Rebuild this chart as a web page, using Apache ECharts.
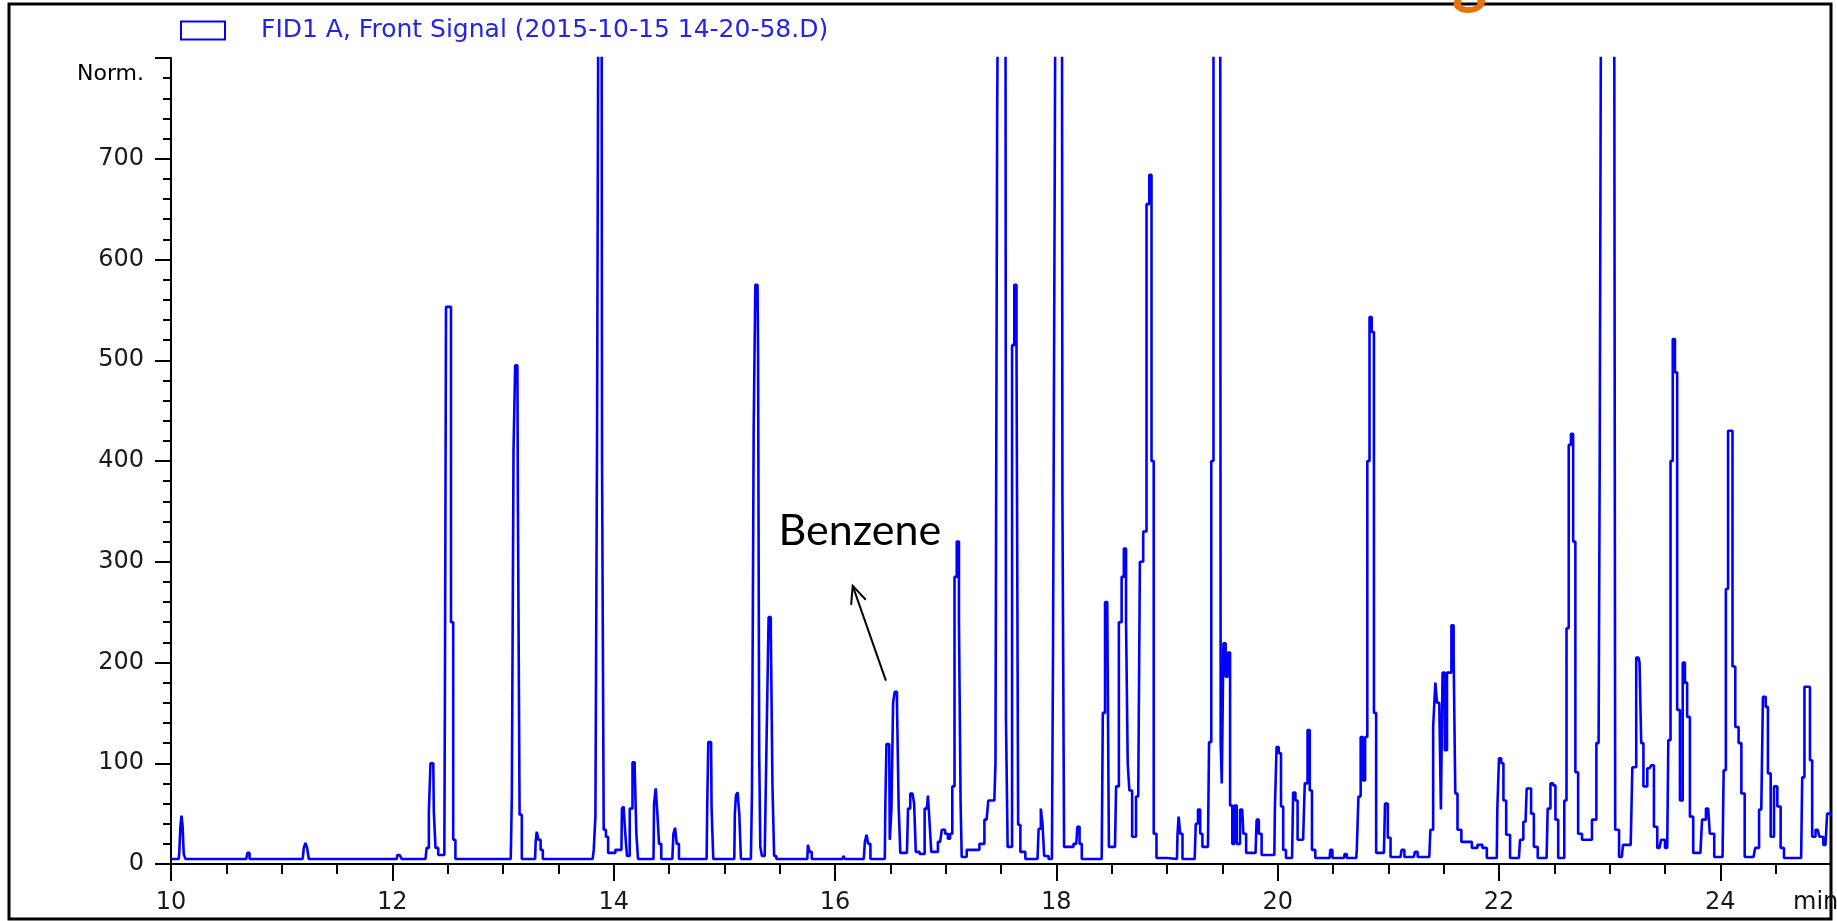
<!DOCTYPE html>
<html>
<head>
<meta charset="utf-8">
<title>FID1 A, Front Signal</title>
<script src="https://cdn.jsdelivr.net/npm/echarts@6/dist/echarts.min.js"></script>
<style>
html, body { margin: 0; padding: 0; background: #fff; }
#main { width: 1837px; height: 921px; }
</style>
</head>
<body>
<div id="main"></div>
<script>
// retention time (min) and detector response
var retentionTime = [
  10.00, 10.07, 10.08, 10.09, 10.10, 10.11, 10.12, 10.14, 10.68, 10.70, 10.72,
  11.19, 11.21, 11.22, 11.24, 11.25, 12.04, 12.05, 12.08, 12.09,
  12.30, 12.32, 12.34, 12.35, 12.37, 12.38, 12.40, 12.43, 12.47, 12.48, 12.49, 12.52, 12.54, 12.56, 12.58,
  13.07, 13.09, 13.10, 13.12, 13.13, 13.14, 13.16, 13.18, 13.29, 13.30, 13.31, 13.33, 13.35, 13.37,
  13.81, 13.83, 13.84, 13.86, 13.87, 13.89, 13.90, 13.92, 13.94, 13.96,
  14.07, 14.08, 14.10, 14.11, 14.13, 14.16, 14.18, 14.20, 14.21, 14.23,
  14.36, 14.37, 14.39, 14.40, 14.42, 14.44, 14.53, 14.55, 14.56, 14.58, 14.60,
  14.84, 14.85, 14.86, 14.88, 14.89, 14.91, 15.09, 15.10, 15.11, 15.13, 15.14, 15.16,
  15.24, 15.26, 15.27, 15.29, 15.30, 15.31, 15.32, 15.33, 15.35, 15.38, 15.39, 15.41, 15.43, 15.44, 15.46, 15.48,
  15.75, 15.76, 15.78, 15.80, 16.07, 16.08, 16.10, 16.26, 16.28, 16.29, 16.31, 16.33,
  16.45, 16.46, 16.47, 16.49, 16.50, 16.52, 16.53, 16.55, 16.57, 16.58, 16.60,
  16.65, 16.67, 16.69, 16.71, 16.72, 16.74, 16.79, 16.83, 16.85, 16.86, 16.88, 16.91,
  16.95, 16.98, 17.01, 17.03, 17.05, 17.07, 17.09, 17.11, 17.13, 17.14, 17.15, 17.18,
  17.20, 17.28, 17.33, 17.37, 17.40, 17.44, 17.46, 17.47, 17.49, 17.54, 17.55, 17.57, 17.59,
  17.61, 17.63, 17.65, 17.66, 17.69, 17.75, 17.83, 17.85, 17.87, 17.88, 17.90,
  17.96, 17.98, 17.99, 18.00, 18.05, 18.06, 18.08, 18.13, 18.18, 18.20, 18.22, 18.24,
  18.41, 18.43, 18.45, 18.47, 18.48, 18.53, 18.55, 18.58, 18.60, 18.62, 18.64, 18.65, 18.67,
  18.70, 18.74, 18.77, 18.80, 18.83, 18.85, 18.87, 18.89, 18.92,
  19.09, 19.10, 19.11, 19.13, 19.15, 19.25, 19.27, 19.29, 19.31, 19.33, 19.37, 19.39, 19.41,
  19.43, 19.48, 19.49, 19.50, 19.52, 19.54, 19.56, 19.58, 19.60, 19.62, 19.64, 19.68, 19.70,
  19.73, 19.80, 19.82, 19.84, 19.87, 19.97, 19.98, 20.00, 20.02, 20.04, 20.06, 20.09,
  20.13, 20.15, 20.17, 20.19, 20.23, 20.26, 20.28, 20.30, 20.32, 20.36,
  20.47, 20.48, 20.51, 20.60, 20.61, 20.64, 20.71, 20.72, 20.74, 20.76, 20.78, 20.80,
  20.82, 20.84, 20.86, 20.88, 20.90, 20.96, 20.98, 21.01, 21.03, 21.11, 21.13, 21.16,
  21.23, 21.25, 21.28, 21.37, 21.39, 21.42, 21.43, 21.45, 21.47, 21.48, 21.50, 21.52,
  21.54, 21.56, 21.58, 21.60, 21.61, 21.64, 21.68, 21.73, 21.78, 21.83, 21.87, 21.91,
  21.98, 21.99, 22.01, 22.03, 22.05, 22.08, 22.12, 22.18, 22.20, 22.24, 22.26, 22.28,
  22.30, 22.33, 22.37, 22.43, 22.45, 22.48, 22.50, 22.52, 22.55, 22.58, 22.60, 22.62,
  22.64, 22.66, 22.68, 22.70, 22.73, 22.77, 22.82, 22.86, 22.90, 22.92, 22.93, 23.04,
  23.06, 23.11, 23.13, 23.19, 23.22, 23.26, 23.28, 23.29, 23.32, 23.36, 23.39, 23.41,
  23.45, 23.48, 23.52, 23.54, 23.56, 23.58, 23.60, 23.62, 23.65, 23.67, 23.69, 23.71,
  23.74, 23.77, 23.82, 23.85, 23.89, 23.92, 23.97, 24.02, 24.04, 24.06, 24.08, 24.10,
  24.12, 24.15, 24.18, 24.20, 24.24, 24.30, 24.33, 24.37, 24.40, 24.42, 24.44, 24.47,
  24.50, 24.53, 24.56, 24.59, 24.73, 24.75, 24.77, 24.80, 24.82, 24.84, 24.88, 24.91,
  24.95, 24.98, 25.00
];

var signal = [
  5, 5, 12, 37, 48, 37, 10, 5, 5, 11, 5,
  5, 16, 21, 16, 5, 5, 9, 9, 5,
  5, 16, 52, 100, 100, 52, 16, 9, 9, 164, 553, 553, 240, 24, 5,
  5, 68, 410, 495, 495, 350, 49, 5, 5, 22, 32, 24, 14, 5,
  5, 14, 47, 430, 1000, 1000, 400, 34, 27, 11,
  14, 55, 57, 30, 8, 55, 101, 95, 30, 5,
  5, 60, 75, 50, 20, 5, 5, 30, 36, 20, 5,
  5, 55, 121, 121, 55, 5, 5, 50, 68, 71, 50, 5,
  5, 73, 430, 575, 575, 505, 110, 17, 8, 10, 146, 245, 230, 77, 8, 5,
  5, 19, 12, 5, 5, 8, 5, 5, 22, 29, 20, 5,
  5, 60, 119, 119, 24, 54, 160, 171, 160, 58, 11,
  11, 55, 70, 70, 60, 12, 10, 55, 68, 40, 12, 12,
  22, 34, 30, 25, 30, 77, 285, 320, 242, 60, 7, 7,
  14, 14, 20, 44, 63, 63, 100, 740, 1000, 1000, 143, 17, 17,
  515, 575, 515, 39, 12, 5, 5, 35, 55, 40, 8,
  5, 210, 669, 1000, 1000, 363, 17, 17, 20, 37, 20, 5,
  5, 150, 260, 260, 17, 17, 77, 240, 285, 313, 240, 100, 73,
  27, 67, 300, 330, 655, 684, 400, 30, 6,
  5, 30, 47, 30, 5, 5, 40, 54, 30, 17, 17, 121, 400,
  1000, 1000, 120, 80, 219, 186, 210, 58, 20, 58, 20, 54, 30,
  11, 11, 44, 30, 9, 9, 55, 116, 110, 57, 14, 6,
  6, 71, 63, 24, 24, 80, 133, 73, 14, 6,
  6, 14, 6, 6, 10, 6, 6, 14, 67, 126, 83, 126,
  400, 543, 528, 150, 11, 11, 60, 26, 7, 7, 14, 7,
  7, 12, 7, 7, 34, 136, 180, 160, 160, 54, 190, 113,
  190, 190, 237, 207, 70, 34, 22, 22, 16, 19, 16, 6,
  6, 55, 105, 100, 63, 29, 6, 6, 24, 42, 75, 75,
  50, 17, 6, 6, 55, 80, 78, 44, 6, 6, 63, 234,
  416, 427, 320, 91, 30, 24, 24, 44, 120, 400, 1000, 1000,
  34, 7, 19, 19, 96, 205, 200, 120, 77, 95, 98, 37,
  16, 24, 16, 123, 400, 521, 488, 153, 63, 200, 180, 146,
  47, 11, 11, 44, 55, 30, 7, 7, 93, 273, 430, 430,
  196, 136, 120, 70, 7, 7, 16, 54, 166, 156, 90, 27,
  77, 57, 16, 6, 6, 86, 176, 176, 103, 27, 34, 27,
  19, 50, 50
];

var seriesName = 'FID1 A, Front Signal (2015-10-15 14-20-58.D)';
var yTopLabel = 'Norm.';
var xUnitLabel = 'min';
var peakNote = 'Benzene';
var noteText = [15.49, 330];      // where the note sits (time, response)
var noteArrow = [[16.46, 182], [16.16, 276]];

var chartDom = document.getElementById('main');
var myChart = echarts.init(chartDom, null, { renderer: 'canvas' });

var points = [];
for (var i = 0; i < retentionTime.length; i++) {
  points.push([retentionTime[i], signal[i]]);
}

var option = {
  backgroundColor: '#fff',
  animation: false,
  grid: { left: 171, right: 6, top: 58, bottom: 57 },
  legend: {
    left: 175,
    top: 13,
    icon: 'path://M0,0H46V20H0ZM2,2V18H44V2Z',
    itemWidth: 46,
    itemHeight: 20,
    selectedMode: false,
    textStyle: {
      color: '#2424e8',
      fontSize: 25,
      fontFamily: 'DejaVu Sans',
      padding: [0, 0, 0, 30]
    },
    data: [seriesName]
  },
  xAxis: {
    type: 'value',
    min: 10,
    max: 25,
    interval: 2,
    offset: 5,
    axisLine: { lineStyle: { color: '#000', width: 2 } },
    axisTick: { length: 17, lineStyle: { color: '#000', width: 2 } },
    minorTick: { show: true, splitNumber: 4, length: 10, lineStyle: { color: '#000', width: 2 } },
    splitLine: { show: false },
    axisLabel: {
      margin: 22,
      fontSize: 24,
      fontFamily: 'DejaVu Sans',
      color: '#1a1a1a',
      formatter: function (v) { return v === 25 ? '' : String(v); }
    }
  },
  yAxis: {
    type: 'value',
    min: 0,
    max: 800,
    interval: 100,
    axisLine: { show: true, lineStyle: { color: '#000', width: 2 } },
    axisTick: { show: true, length: 16, lineStyle: { color: '#000', width: 2 } },
    minorTick: { show: true, splitNumber: 5, length: 8, lineStyle: { color: '#000', width: 2 } },
    splitLine: { show: false },
    axisLabel: {
      margin: 27,
      fontSize: 24,
      fontFamily: 'DejaVu Sans',
      color: '#1a1a1a',
      formatter: function (v) { return v === 800 ? '{n|' + yTopLabel + '}' : String(v); },
      rich: {
        n: { fontSize: 22, fontFamily: 'DejaVu Sans', letterSpacing: -2, color: '#000', padding: [32, 0, 0, 0] }
      }
    }
  },
  series: [
    {
      name: seriesName,
      type: 'line',
      step: 'middle',
      showSymbol: false,
      clip: true,
      color: '#0000ff',
      lineStyle: { color: '#0000ff', width: 2.6 },
      data: points
    }
  ]
};

myChart.setOption(option);

// annotation, placed through the grid's own scale
var tip = myChart.convertToPixel({ gridIndex: 0 }, noteArrow[1]);
var tail = myChart.convertToPixel({ gridIndex: 0 }, noteArrow[0]);
var txt = myChart.convertToPixel({ gridIndex: 0 }, noteText);
var ang = Math.atan2(tail[1] - tip[1], tail[0] - tip[0]);
var headLen = 19, spread = 0.42;
var yEnd = myChart.convertToPixel({ gridIndex: 0 }, [10, 0]);

myChart.setOption({
  graphic: [
    {
      type: 'rect',
      silent: true,
      shape: { x: 9, y: 4, width: 1822, height: 915 },
      style: { fill: 'none', stroke: '#000', lineWidth: 3 }
    },
    {
      // bottom of a cropped slide-title letter above the frame
      type: 'text',
      silent: true,
      z: 200,
      x: 1452,
      y: 12,
      style: { text: 'g', fontSize: 66, fontWeight: 'bold', fontFamily: 'Lato', fill: '#e8730c', verticalAlign: 'bottom' }
    },
    {
      type: 'line',
      silent: true,
      shape: { x1: yEnd[0], y1: yEnd[1], x2: yEnd[0], y2: yEnd[1] + 6 },
      style: { stroke: '#000', lineWidth: 2 }
    },
    {
      type: 'text',
      silent: true,
      x: 1793,
      y: 891,
      style: { text: xUnitLabel, fontSize: 24, fontFamily: 'DejaVu Sans', fill: '#111' }
    },
    {
      type: 'text',
      silent: true,
      x: txt[0],
      y: txt[1],
      style: { text: peakNote, fontSize: 43, fontFamily: 'Lato', fill: '#000', verticalAlign: 'middle' }
    },
    {
      type: 'polyline',
      silent: true,
      shape: { points: [tail, tip] },
      style: { stroke: '#000', lineWidth: 2 }
    },
    {
      type: 'polyline',
      silent: true,
      shape: {
        points: [
          [tip[0] + headLen * Math.cos(ang - spread), tip[1] + headLen * Math.sin(ang - spread)],
          tip,
          [tip[0] + headLen * Math.cos(ang + spread), tip[1] + headLen * Math.sin(ang + spread)]
        ]
      },
      style: { stroke: '#000', lineWidth: 2, fill: 'none' }
    }
  ]
});
</script>
</body>
</html>
